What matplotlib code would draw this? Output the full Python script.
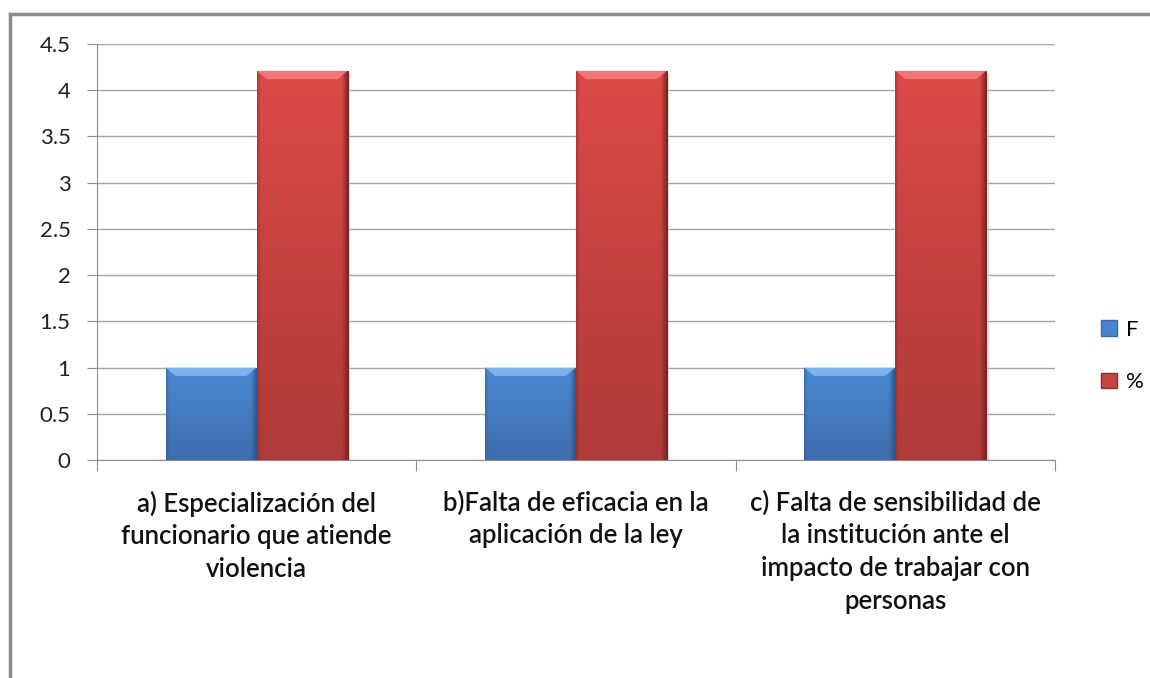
import numpy as np
import matplotlib.pyplot as plt
from matplotlib.lines import Line2D
from matplotlib.patches import Rectangle, Polygon, Patch

categories = ['a) Especialización del\nfuncionario que atiende\nviolencia',
              'b)Falta de eficacia en la\naplicación de la ley',
              'c) Falta de sensibilidad de\nla institución ante el\nimpacto de trabajar con\npersonas']
series_names = ['F', '%']
f_values = [1, 1, 1]
pct_values = [4.21, 4.21, 4.21]
y_ticks = [0, 0.5, 1, 1.5, 2, 2.5, 3, 3.5, 4, 4.5]

plt.rcParams['font.family'] = ['Lato', 'DejaVu Sans']

fig = plt.figure(figsize=(11.5, 6.78), dpi=100)
ax = fig.add_axes([0.0843, 0.3215, 0.833, 0.6136])

# frame of the picture (top and left only)
fig.add_artist(Line2D([0.0087, 1.0], [0.979, 0.979], color='#8c8c8c', lw=2.5))
fig.add_artist(Line2D([0.0087, 0.0087], [0.0, 0.979], color='#8c8c8c', lw=2.5))

x = np.arange(len(categories))
w = 0.285


def rgb(h):
    h = h.lstrip('#')
    return np.array([int(h[i:i + 2], 16) / 255 for i in (0, 2, 4)])


def shade_bars(bars, top, bottom, bevel, edge):
    top, bottom, edge = rgb(top), rgb(bottom), rgb(edge)
    for b in bars:
        x0, y0 = b.get_x(), b.get_y()
        bw, bh = b.get_width(), b.get_height()
        ny, nx = 200, 60
        ty = np.linspace(0, 1, ny)[:, None, None]   # 0 top -> 1 bottom
        img = top * (1 - ty) + bottom * ty
        img = np.repeat(img, nx, axis=1)
        # darker right edge, slight left edge
        tx = np.linspace(0, 1, nx)
        dr = np.clip((tx - 0.93) / 0.07, 0, 1)[None, :, None]
        dl = np.clip((0.03 - tx) / 0.03, 0, 1)[None, :, None] * 0.4
        img = img * (1 - dr) + edge * dr
        img = img * (1 - dl) + edge * dl
        im = ax.imshow(img, extent=[x0, x0 + bw, y0, y0 + bh], aspect='auto',
                       zorder=3, interpolation='bilinear')
        im.set_clip_path(b)
        # top bevel
        hb = 0.09
        ins = 0.032
        ax.add_patch(Polygon([[x0, y0 + bh], [x0 + bw, y0 + bh],
                              [x0 + bw - ins, y0 + bh - hb], [x0 + ins, y0 + bh - hb]],
                             closed=True, color=bevel, lw=0, zorder=4, alpha=0.85))
        # shadow
        ax.add_patch(Rectangle((x0 + 0.008, y0 - 0.035), bw, bh, color='#c8c8c8',
                               lw=0, zorder=2, alpha=0.7))


b1 = ax.bar(x - w / 2, f_values, w, color='#4a84cc', edgecolor='#3b6aa6',
            lw=0.6, zorder=3, label=series_names[0])
b2 = ax.bar(x + w / 2, pct_values, w, color='#c94340', edgecolor='#8f2e2c',
            lw=0.6, zorder=3, label=series_names[1])
shade_bars(b1, '#4c8ad4', '#3d6dac', '#86baf2', '#2c5288')
shade_bars(b2, '#db4a47', '#af3a38', '#f5807e', '#7a2422')

ax.set_xlim(-0.5, len(categories) - 0.5)
ax.set_ylim(0, 4.5)
ax.set_yticks(y_ticks)
ax.set_yticklabels([f'{v:g}' for v in y_ticks], fontsize=16, color='#222222')
ax.yaxis.grid(True, color='#a6a6a6', lw=1)
ax.set_axisbelow(True)

ax.set_xticks(np.arange(len(categories) + 1) - 0.5)
ax.set_xticklabels([])
ax.tick_params(axis='x', length=8, color='#8c8c8c', direction='out')
ax.tick_params(axis='y', length=7, color='#8c8c8c', direction='out', pad=12)
for i, c in enumerate(categories):
    ax.text(i, -0.33, c, ha='center', va='top', fontsize=18.5, color='#111111',
            linespacing=1.38, fontweight='semibold')

for s in ['top', 'right']:
    ax.spines[s].set_visible(False)
for s in ['left', 'bottom']:
    ax.spines[s].set_color('#8c8c8c')

handles = [Patch(facecolor='#4a84cc', edgecolor='#3b6aa6'),
           Patch(facecolor='#c94340', edgecolor='#8f2e2c')]
fig.legend(handles, series_names, loc='center left', bbox_to_anchor=(0.948, 0.475),
           frameon=False, fontsize=16, handlelength=0.7, handleheight=0.7,
           labelspacing=1.45, handletextpad=0.4, borderpad=0)

fig.savefig('out.png', dpi=100)
